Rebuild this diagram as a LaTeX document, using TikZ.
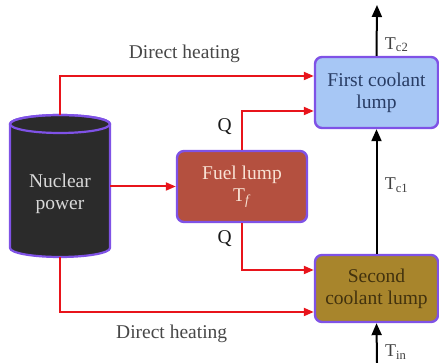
\documentclass[tikz,border=0pt]{standalone}
\usepackage{fontspec}
\setmainfont{Liberation Serif}
\usetikzlibrary{positioning, arrows.meta}

\definecolor{rimpurple}{HTML}{7F52E6}
\definecolor{heatred}{HTML}{E8141B}
\definecolor{drumgray}{HTML}{2B2B2B}
\definecolor{fuelbrown}{HTML}{B4503F}
\definecolor{firstblue}{HTML}{A7C7F5}
\definecolor{secondgold}{HTML}{A8852C}

\begin{document}
\begin{tikzpicture}[x=1pt, y=1pt, thick,
    lump/.style={draw=rimpurple, line width=2.4pt, rounded corners=7pt, align=center,
        minimum width=123pt, font=\fontsize{19.5}{22}\selectfont},
    heat/.style={draw=heatred, line width=2pt, -{Triangle[length=10pt, width=8pt]}},
    flow/.style={draw=black, line width=2pt, -{Triangle[length=12pt, width=10pt]}},
    lbl/.style={font=\fontsize{19.5}{22}\selectfont, text=black!72},
    tlbl/.style={font=\fontsize{18}{20}\selectfont, text=black!75}]
    \useasboundingbox (0,0) rectangle (439,363);

    % Nuclear power drum
    \filldraw[fill=drumgray, draw=rimpurple, line width=2.2pt]
        (10,239) -- (10,115) arc[start angle=180, end angle=360, x radius=50, y radius=9]
        -- (110,239) arc[start angle=0, end angle=180, x radius=50, y radius=9] -- cycle;
    \draw[rimpurple, line width=2.2pt] (60,239) ellipse[x radius=50, y radius=9];
    \node[align=center, text=white!85!black, font=\fontsize{19.5}{22}\selectfont] (nuc) at (60,169) {Nuclear\\power};
    \coordinate (nucT) at (60,248);
    \coordinate (nucB) at (60,106);
    \coordinate (nucR) at (110,176.5);

    % Lumps
    \node[lump, fill=fuelbrown, text={rgb,255:red,248;green,226;blue,212}, minimum width=130pt, minimum height=71pt]
        (fuel) at (242,176.5) {Fuel lump\\T\textsubscript{\textit{f}}};
    \node[lump, fill=firstblue, text={rgb,255:red,40;green,60;blue,100}, minimum height=71pt]
        (first) at (376.5,270.5) {First coolant\\lump};
    \node[lump, fill=secondgold, text={rgb,255:red,66;green,50;blue,14}, minimum height=67pt]
        (second) at (376.5,74.5) {Second\\coolant lump};

    % Free ends of the coolant flow
    \coordinate (outlet) at (377,358);
    \coordinate (inlet) at (377,0);

    % Heating paths
    \draw[heat] (nucT) |- ([yshift=16.5pt]first.west)
        node[lbl, pos=0.745, above=9pt] {Direct heating};
    \draw[heat] (nucB) |- ([yshift=-23.5pt]second.west)
        node[lbl, pos=0.72, below=9pt] {Direct heating};
    \draw[heat] (nucR) -- (fuel.west);
    \draw[heat] (fuel.north) |- ([yshift=-18.5pt]first.west)
        node[lbl, text=black!90, pos=0.3, left=6pt] {Q};
    \draw[heat] (fuel.south) |- ([yshift=18.5pt]second.west)
        node[lbl, text=black!90, pos=0.17, left=6pt] {Q};

    % Coolant flow
    \draw[flow] (inlet) -- (second.south) node[tlbl, pos=0.27, right=4pt] {T\textsubscript{in}};
    \draw[flow] (second.north) -- (first.south) node[tlbl, pos=0.55, right=4pt] {T\textsubscript{c1}};
    \draw[flow] (first.north) -- (outlet) node[tlbl, pos=0.22, right=4pt] {T\textsubscript{c2}};
\end{tikzpicture}
\end{document}
